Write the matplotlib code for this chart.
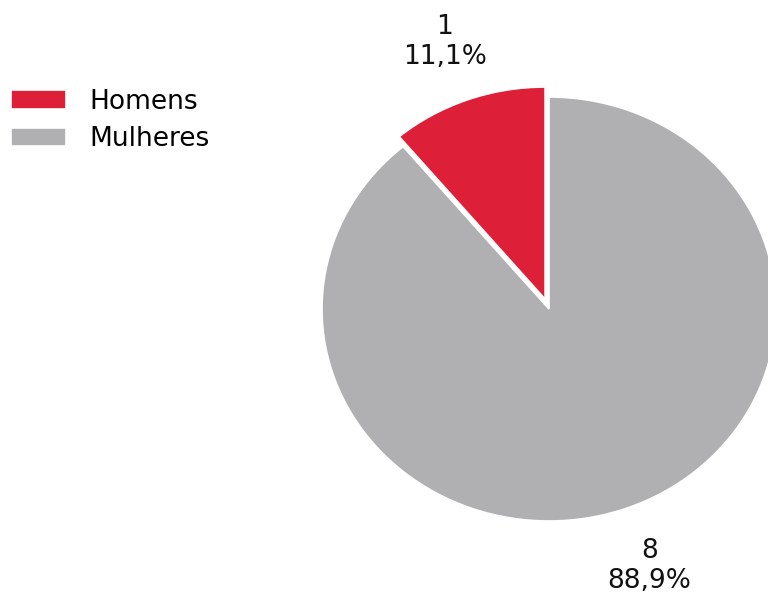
import matplotlib.pyplot as plt

labels = ['Homens', 'Mulheres']
counts = [1, 8]
colors = ['#DD1F38', '#B0B0B2']

W, H = 768, 592
fig = plt.figure(figsize=(W / 100, H / 100), dpi=100)

# pie centre and radii in pixels (slightly wider than tall)
cx, cy, rx, ry = 549, 309, 227, 212
lim = 1.25
ax = fig.add_axes([(cx - lim * rx) / W, (H - cy - lim * ry) / H,
                   2 * lim * rx / W, 2 * lim * ry / H])

total = sum(counts)

def fmt(p):
  n = round(p * total / 100)
  return f"{n}\n{p:.1f}%".replace('.', ',')

wedges, _, autotexts = ax.pie(
  counts, colors=colors, startangle=90, counterclock=True,
  explode=[0.05, 0], autopct=fmt, pctdistance=1.29,
  wedgeprops=dict(edgecolor='white', linewidth=1.2),
  textprops=dict(fontsize=19, color='#111111'),
)
ax.set_aspect('auto')
ax.set_xlim(-lim, lim)
ax.set_ylim(-lim, lim)
ax.axis('off')

fig.legend(wedges, labels, loc='upper left', bbox_to_anchor=(0.0, 1 - 78 / H),
           frameon=False, fontsize=19, handlelength=2.1, handleheight=0.7,
           handletextpad=0.9, labelspacing=0.45, borderaxespad=0.0)

fig.savefig('out.png', dpi=100)
